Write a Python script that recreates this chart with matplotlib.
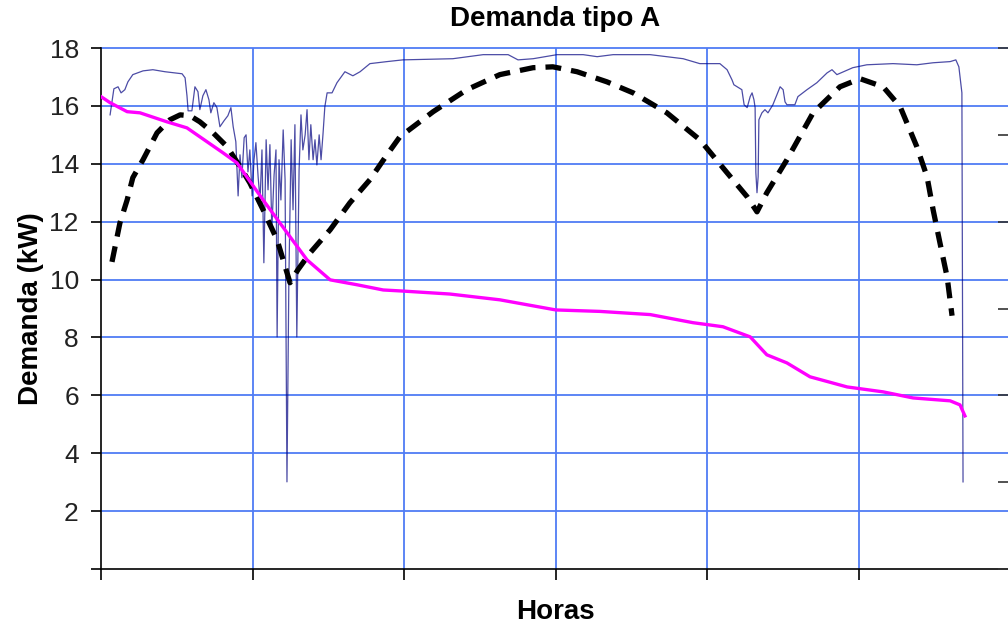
import numpy as np
import matplotlib
matplotlib.use("Agg")
import matplotlib.pyplot as plt

plt.rcParams["font.family"] = ["Liberation Sans", "DejaVu Sans"]

# ---- datos (horas, kW) ----
# demanda medida (linea azul)
demanda_h = [0.24, 0.34, 0.45, 0.53, 0.63, 0.71, 0.84, 1.11, 1.37, 1.69, 2.14, 2.22, 2.27, 2.30,
             2.40, 2.48, 2.56, 2.61, 2.69, 2.77, 2.85, 2.90, 2.98, 3.06, 3.14, 3.25, 3.35, 3.43,
             3.49, 3.56, 3.62, 3.67, 3.72, 3.78, 3.83, 3.88, 3.93, 3.99, 4.04, 4.09, 4.15, 4.20,
             4.25, 4.30, 4.36, 4.41, 4.46, 4.51, 4.57, 4.62, 4.65, 4.70, 4.75, 4.81, 4.86, 4.91,
             4.96, 5.02, 5.07, 5.12, 5.17, 5.23, 5.28, 5.33, 5.39, 5.44, 5.49, 5.54, 5.60, 5.65,
             5.70, 5.76, 5.81, 5.86, 5.91, 5.97, 6.10, 6.23, 6.44, 6.65, 6.84, 7.10, 7.55, 7.97,
             9.29, 10.09, 10.75, 11.01, 11.41, 12.04, 12.73, 13.10, 13.52, 14.50, 14.94, 15.37,
             15.81, 16.34, 16.53, 16.66, 16.71, 16.92, 16.98, 17.06, 17.14, 17.19, 17.24, 17.27,
             17.29, 17.32, 17.35, 17.37, 17.45, 17.53, 17.61, 17.74, 17.93, 18.01, 18.06, 18.11,
             18.32, 18.40, 18.64, 18.90, 19.17, 19.30, 19.43, 19.85, 20.22, 20.91, 21.54, 21.97,
             22.42, 22.57, 22.65, 22.73, 22.76]
demanda_kw = [15.69, 16.59, 16.66, 16.45, 16.56, 16.83, 17.08, 17.21, 17.25, 17.18, 17.11, 16.97,
              16.35, 15.83, 15.83, 16.66, 16.49, 15.87, 16.35, 16.56, 16.21, 15.76, 16.11, 15.94,
              15.28, 15.49, 15.66, 15.94, 15.28, 14.76, 12.89, 14.31, 13.52, 14.90, 15.00, 13.72,
              14.48, 12.89, 14.14, 14.73, 13.52, 12.75, 14.48, 10.58, 14.83, 13.10, 14.66, 11.72,
              13.62, 14.48, 8.02, 14.14, 12.75, 15.17, 13.45, 3.01, 9.99, 14.83, 12.41, 15.35,
              8.02, 13.79, 15.69, 14.48, 15.00, 15.87, 14.14, 15.35, 14.14, 14.83, 13.96, 15.00,
              14.14, 15.00, 15.97, 16.45, 16.45, 16.80, 17.18, 17.04, 17.18, 17.46, 17.53, 17.59,
              17.63, 17.77, 17.77, 17.59, 17.63, 17.77, 17.77, 17.70, 17.77, 17.77, 17.70, 17.63,
              17.46, 17.46, 17.25, 16.90, 16.73, 16.56, 16.04, 15.94, 16.32, 16.45, 16.21, 15.94,
              13.69, 13.00, 13.55, 15.52, 15.76, 15.87, 15.76, 16.04, 16.66, 16.56, 16.14, 16.04,
              16.04, 16.32, 16.56, 16.80, 17.14, 17.25, 17.08, 17.32, 17.42, 17.46, 17.42, 17.49,
              17.53, 17.59, 17.35, 16.45, 3.01]

# curva de duracion (linea magenta)
duracion_h = [0.0, 0.24, 0.69, 1.03, 1.74, 2.27, 3.22, 3.59, 4.28, 4.99, 5.44, 6.05, 6.76, 7.45,
              8.0, 9.21, 10.53, 12.01, 13.17, 14.5, 15.63, 16.42, 17.14, 17.58, 18.11, 18.72,
              19.70, 20.65, 21.44, 22.42, 22.68, 22.81]
duracion_kw = [16.32, 16.11, 15.80, 15.76, 15.45, 15.24, 14.38, 14.03, 12.75, 11.48, 10.68, 9.99,
               9.82, 9.64, 9.60, 9.50, 9.30, 8.95, 8.90, 8.79, 8.51, 8.37, 8.02, 7.40, 7.12, 6.64,
               6.29, 6.12, 5.91, 5.81, 5.67, 5.29]

# curva ajustada (linea negra discontinua)
ajuste_h = [0.29, 0.50, 0.69, 0.84, 1.11, 1.48, 1.82, 2.09, 2.35, 2.61, 2.96, 3.33, 3.67, 3.93,
            4.28, 4.65, 4.99, 5.20, 5.52, 6.05, 6.57, 7.10, 7.55, 7.89, 8.77, 9.66, 10.53, 11.41,
            11.93, 12.57, 13.36, 14.05, 14.94, 15.81, 16.53, 17.06, 17.32, 17.58, 18.11, 18.80,
            19.51, 20.04, 20.65, 21.10, 21.54, 21.81, 21.97, 22.15, 22.34, 22.47]
ajuste_kw = [10.61, 11.96, 12.75, 13.52, 14.14, 15.07, 15.52, 15.69, 15.66, 15.45, 15.07, 14.59,
             13.90, 13.34, 12.41, 11.37, 9.89, 10.34, 10.92, 11.72, 12.65, 13.45, 14.31, 14.93,
             15.80, 16.56, 17.08, 17.32, 17.35, 17.18, 16.83, 16.45, 15.76, 14.83, 13.69, 12.86,
             12.34, 13.00, 14.14, 15.76, 16.66, 16.94, 16.66, 15.97, 14.59, 13.55, 12.41, 11.27,
             10.09, 8.75]

y_ticks = [0, 2, 4, 6, 8, 10, 12, 14, 16, 18]
y_labels = ["", "2", "4", "6", "8", "10", "12", "14", "16", "18"]
x_ticks = [0, 4, 8, 12, 16, 20, 24]

W, H = 1008, 625
fig = plt.figure(figsize=(W / 100, H / 100), dpi=100)
# el area del grafico se sale un poco por la derecha, como en el original
ax = fig.add_axes([101 / W, 56 / H, 909 / W, 521 / H])

grid_color = "#4f7cf5"
ax.set_xlim(0, 24)
ax.set_ylim(0, 18)
ax.set_yticks(y_ticks)
ax.set_yticklabels(y_labels)
ax.set_xticks(x_ticks)
ax.set_xticklabels([])
for y in y_ticks[1:]:
    ax.axhline(y, color=grid_color, lw=1.3, zorder=1, clip_on=False)
for x in x_ticks[1:-1]:
    ax.axvline(x, color=grid_color, lw=1.3, zorder=1)

ax.plot(demanda_h, demanda_kw, color="#000080", lw=0.9, alpha=0.7, zorder=3)
ax.plot(ajuste_h, ajuste_kw, color="black", lw=3.8, ls=(0, (3.0, 1.9)), zorder=4)
ax.plot(duracion_h, duracion_kw, color="#ff00ff", lw=2.4, zorder=5)

for s in ["top", "right"]:
    ax.spines[s].set_visible(False)
for s in ["left", "bottom"]:
    ax.spines[s].set_color("black")
    ax.spines[s].set_linewidth(1.2)
ax.tick_params(axis="y", direction="out", length=7, width=1.2, pad=9,
               labelsize=19, labelcolor="#222222")
ax.tick_params(axis="x", direction="out", length=8, width=1.2)

# eje secundario (solo marcas, cortado por la derecha)
ax2 = ax.twinx()
ax2.set_ylim(0, 18)
ax2.set_yticks([0, 3, 6, 9, 12, 15, 18])
ax2.set_yticklabels([])
ax2.tick_params(axis="y", direction="in", length=9, width=1.2, color="#333333")
for s in ["top", "left", "bottom", "right"]:
    ax2.spines[s].set_visible(False)

ax.set_title("Demanda tipo A", fontsize=20, fontweight="bold", pad=16)
ax.set_xlabel("Horas", fontsize=20, fontweight="bold", labelpad=10)
ax.set_ylabel("Demanda (kW)", fontsize=20, fontweight="bold", labelpad=4)

fig.savefig("out.png", dpi=100)
